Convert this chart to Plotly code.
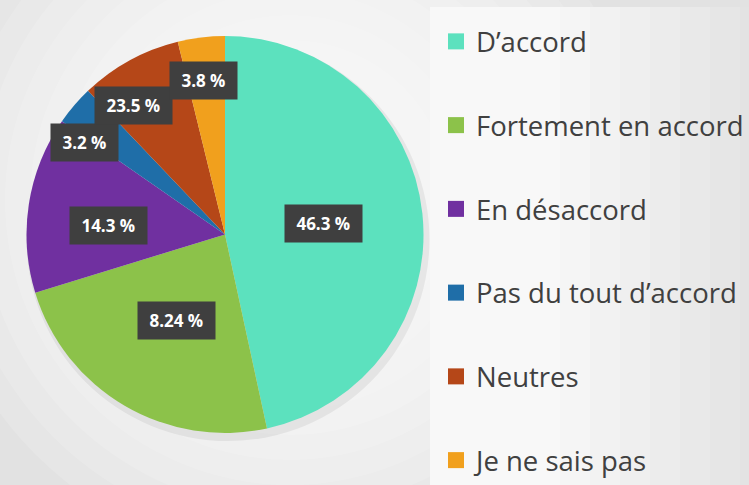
import math

import plotly.graph_objects as go

# data
CATEGORIES = [
    "D’accord",
    "Fortement en accord",
    "En désaccord",
    "Pas du tout d’accord",
    "Neutres",
    "Je ne sais pas",
]
SHARES = [46.3, 23.5, 14.3, 3.2, 8.24, 3.8]  # slice sizes as drawn
LABELS = ["46.3 %", "8.24 %", "14.3 %", "3.2 %", "23.5 %", "3.8 %"]  # labels as printed
COLORS = ["#5CE1BE", "#8CC24A", "#7030A0", "#1F6EA8", "#B54718", "#F1A01D"]

# geometry (px)
W, H = 749, 485
CX, CY, R = 225, 234.5, 197.5
LABEL_R = [0.5, 0.5, 0.59, 0.85, 0.8, 0.785]
LABEL_TURN = [0, -1, -4.5, -7.5, -6.5, -1]


def px(x):
    return x / W


def py(y):
    return 1 - y / H


fig = go.Figure()
fig.add_trace(
    go.Pie(
        labels=CATEGORIES,
        values=SHARES,
        sort=False,
        direction="clockwise",
        rotation=0,
        marker=dict(colors=COLORS, line=dict(width=0)),
        textinfo="none",
        hoverinfo="label+percent",
        showlegend=False,
        domain=dict(x=[px(CX - R - 1), px(CX + R + 1)],
                    y=[py(CY + R + 1), py(CY - R - 1)]),
    )
)

# legend entries (spaced like the original)
for name, color in zip(CATEGORIES, COLORS):
    fig.add_trace(
        go.Scatter(
            x=[None],
            y=[None],
            mode="markers",
            name=name,
            legendgroup=name,
            marker=dict(symbol="square", size=18, color=color),
            hoverinfo="skip",
        )
    )

# data labels
total = sum(SHARES)
annotations = []
cum = 0
for share, text, rr, turn in zip(SHARES, LABELS, LABEL_R, LABEL_TURN):
    theta = math.radians(360 * (cum + share / 2) / total + turn)
    cum += share
    x = CX + rr * R * math.sin(theta)
    y = CY - rr * R * math.cos(theta)
    annotations.append(dict(
        x=px(x), y=py(y), xref="paper", yref="paper",
        xanchor="center", yanchor="middle",
        text="\u00a0" + text + "\u00a0",
        showarrow=False, borderpad=7, bgcolor="#3f3f3f",
        font=dict(family="Open Sans", size=17, color="white", weight="bold"),
    ))


def circle(cx, cy, r, **kw):
    return dict(type="circle", xref="paper", yref="paper", layer="below",
                x0=px(cx - r), x1=px(cx + r), y0=py(cy + r), y1=py(cy - r),
                line=dict(width=0), **kw)


# soft radial glow behind the pie
shapes = [
    circle(290, 200, r, fillcolor="rgba(255,255,255,0.14)")
    for r in range(360, 150, -25)
]
shapes += [
    circle(CX + 3, CY + 5, R + 4, fillcolor="rgba(0,0,0,0.06)"),
    dict(type="rect", xref="paper", yref="paper", layer="below",
         x0=px(430), x1=1, y0=0, y1=py(7),
         fillcolor="#f8f8f8", line=dict(width=0)),
]
# legend panel darkening to the right
for x0 in range(560, 749, 30):
    shapes.append(dict(type="rect", xref="paper", yref="paper", layer="below",
                       x0=px(x0), x1=1, y0=0, y1=py(7),
                       fillcolor="rgba(0,0,0,0.012)", line=dict(width=0)))

fig.update_layout(
    width=W,
    height=H,
    margin=dict(l=0, r=0, t=0, b=0),
    paper_bgcolor="#e2e2e2",
    plot_bgcolor="rgba(0,0,0,0)",
    xaxis=dict(visible=False),
    yaxis=dict(visible=False),
    showlegend=True,
    legend=dict(
        x=1, y=py(45), xanchor="right", yanchor="top",
        bgcolor="rgba(0,0,0,0)",
        font=dict(family="Open Sans", size=27.5, color="#404040"),
        tracegroupgap=45,
        traceorder="grouped",
        itemclick=False,
    ),
    shapes=shapes,
    annotations=annotations,
)

fig.write_html(
    "out.html",
    config={"displayModeBar": False},
    post_script="document.body.style.margin='0';",
)
